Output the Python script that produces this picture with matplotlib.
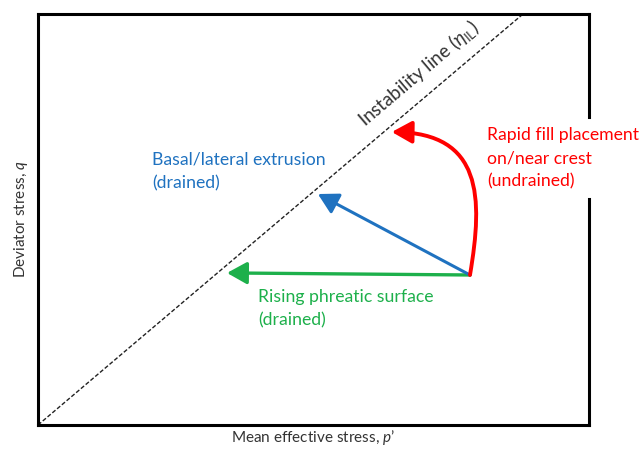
import matplotlib
matplotlib.use("Agg")
import matplotlib.pyplot as plt
from matplotlib.patches import FancyArrowPatch
from matplotlib.path import Path
from matplotlib.lines import Line2D

plt.rcParams['font.family'] = ['Lato', 'DejaVu Sans']
plt.rcParams['mathtext.fontset'] = 'custom'
plt.rcParams['mathtext.rm'] = 'Lato'
plt.rcParams['mathtext.it'] = 'Lato:italic'

# Stress-space extent (p', q) in arbitrary units
p_max = 100.0
q_max = 100.0

# Instability line slope (q = eta_IL * p')
eta_il = 1.136

# Common starting state of the stress paths
start_p, start_q = 78.4, 36.5

# End points of the straight drained paths
phreatic_end = (34.3, 37.0)
extrusion_end = (50.8, 56.2)

# Undrained path: cubic Bezier control points, then end point
undrained_ctrl = [(80.8, 55.5), (80.6, 71.0)]
undrained_end = (64.2, 71.3)

red = '#FF0000'
blue = '#1F72C0'
green = '#1DB04B'
grey = '#333333'

fig = plt.figure(figsize=(6.44, 4.49), dpi=100)
ax = fig.add_axes([38 / 644, 24 / 449, 551 / 644, 411 / 449])
ax.set_xlim(0, p_max)
ax.set_ylim(0, q_max)
ax.set_xticks([])
ax.set_yticks([])
for side in ['left', 'bottom', 'top']:
    ax.spines[side].set_linewidth(2.2)
    ax.spines[side].set_color('black')
ax.spines['right'].set_visible(False)
# right border, broken where the undrained-path label sits
for y0, y1 in [(0.0, 0.55), (0.749, 1.0)]:
    ax.add_line(Line2D([1, 1], [y0, y1], transform=ax.transAxes, color='black',
                       lw=2.2, clip_on=False, solid_capstyle='projecting'))

# Instability line
p_line = [0, q_max / eta_il]
q_line = [0, q_max]
ax.plot(p_line, q_line, color='#222222', lw=1.0, linestyle=(0, (3, 1.5)), zorder=2)
ax.text(69.0, 85.6, r'Instability line ($\eta_{\mathrm{IL}}$)', rotation=40.3,
        rotation_mode='anchor', ha='center', va='center', fontsize=13.5, color=grey)

arrow_kw = dict(arrowstyle='-|>,head_length=0.9,head_width=0.5', mutation_scale=13.5,
                shrinkA=0, shrinkB=0, zorder=4)

# Rising phreatic surface (drained)
ax.add_patch(FancyArrowPatch((start_p, start_q), phreatic_end, color=green, lw=2.4, **arrow_kw))
# Basal/lateral extrusion (drained)
ax.add_patch(FancyArrowPatch((start_p, start_q), extrusion_end, color=blue, lw=2.2, **arrow_kw))
# Rapid fill placement (undrained)
undrained_path = Path([(start_p, start_q)] + undrained_ctrl + [undrained_end],
                      [Path.MOVETO, Path.CURVE4, Path.CURVE4, Path.CURVE4])
ax.add_patch(FancyArrowPatch(path=undrained_path, color=red, lw=2.8, **arrow_kw))

fs = 12.7
ls = 1.57
ax.text(20.7, 66.5, 'Basal/lateral extrusion\n(drained)', color=blue, fontsize=fs,
        ha='left', va='top', linespacing=ls)
ax.text(39.9, 33.2, 'Rising phreatic surface\n(drained)', color=green, fontsize=fs,
        ha='left', va='top', linespacing=ls)
ax.text(81.5, 72.6, 'Rapid fill placement\non/near crest\n(undrained)', color=red,
        fontsize=fs, ha='left', va='top', linespacing=ls, clip_on=False)

ax.set_xlabel(r"Mean effective stress, $\mathit{p}$’", fontsize=11, color=grey, labelpad=2)
ax.set_ylabel(r"Deviator stress, $q$", fontsize=11, color=grey, labelpad=6)

fig.savefig('out.png', dpi=100)
